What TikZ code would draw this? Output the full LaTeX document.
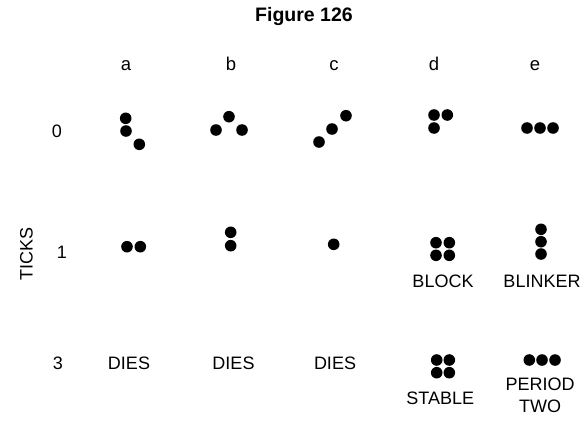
\documentclass[tikz,border=0pt]{standalone}
\usepackage{fontspec}
\setmainfont{Liberation Sans}
\begin{document}
\begin{tikzpicture}[x=1pt,y=-1pt,
  cell/.style={circle,fill=black,draw=none,inner sep=0pt,minimum size=11.6pt},
  lbl/.style={inner sep=0pt,font=\fontsize{18}{18}\selectfont},
  collbl/.style={inner sep=0pt,anchor=base,font=\fontsize{18.5}{18}\selectfont},
  ttl/.style={inner sep=0pt,font=\bfseries\fontsize{19.5}{20}\selectfont}]
\fill[white] (0,0) rectangle (585,420);
\useasboundingbox (0,0) rectangle (585,420);
% title
\node[ttl] (title) at (304,17) {Figure 126};
% column labels
\node[collbl] (la) at (126,70) {a};
\node[collbl] (lb) at (231,70) {b};
\node[collbl] (lc) at (334,70) {c};
\node[collbl] (ld) at (434,70) {d};
\node[collbl] (le) at (535,70) {e};
% row labels
\node[lbl] (r0) at (57,131) {0};
\node[lbl] (r1) at (62,252) {1};
\node[lbl] (r3) at (58,363.5) {3};
\node[lbl,rotate=90] (ticks) at (26.5,253.5) {TICKS};
% row 0
\node[cell] (a01) at (125.7,118.3) {};
\node[cell] (a02) at (126,131) {};
\node[cell] (a03) at (139.3,144.3) {};
\node[cell] (b01) at (229,116.7) {};
\node[cell] (b02) at (216,130) {};
\node[cell] (b03) at (242,130) {};
\node[cell] (c01) at (346,115.7) {};
\node[cell] (c02) at (332,129) {};
\node[cell] (c03) at (319,142) {};
\node[cell] (d01) at (434,115) {};
\node[cell] (d02) at (447.3,115) {};
\node[cell] (d03) at (434,128) {};
\node[cell] (e01) at (527,128) {};
\node[cell] (e02) at (540,128) {};
\node[cell] (e03) at (553,128) {};
% row 1
\node[cell] (a11) at (127,246.7) {};
\node[cell] (a12) at (140.3,246.7) {};
\node[cell] (b11) at (230.7,232.3) {};
\node[cell] (b12) at (230.7,245.7) {};
\node[cell] (c11) at (333.7,244.3) {};
\node[cell] (d11) at (436,242.7) {};
\node[cell] (d12) at (449.3,242.7) {};
\node[cell] (d13) at (436,255.3) {};
\node[cell] (d14) at (449.3,255.3) {};
\node[cell] (e11) at (541,229.3) {};
\node[cell] (e12) at (541,241.7) {};
\node[cell] (e13) at (541,254) {};
\node[lbl] (block) at (443,281) {BLOCK};
\node[lbl] (blinker) at (542,281) {BLINKER};
% row 3
\node[lbl] (diesa) at (129,363.5) {DIES};
\node[lbl] (diesb) at (233.5,363.5) {DIES};
\node[lbl] (diesc) at (335,363.5) {DIES};
\node[cell] (d31) at (436.7,360) {};
\node[cell] (d32) at (449.3,360) {};
\node[cell] (d33) at (436.7,372.7) {};
\node[cell] (d34) at (449.3,372.7) {};
\node[lbl] (stable) at (440.3,398) {STABLE};
\node[cell] (e31) at (529.3,360) {};
\node[cell] (e32) at (542,360) {};
\node[cell] (e33) at (555,360) {};
\node[lbl] (period) at (540,384) {PERIOD};
\node[lbl] (two) at (540,406.5) {TWO};
\end{tikzpicture}
\end{document}
